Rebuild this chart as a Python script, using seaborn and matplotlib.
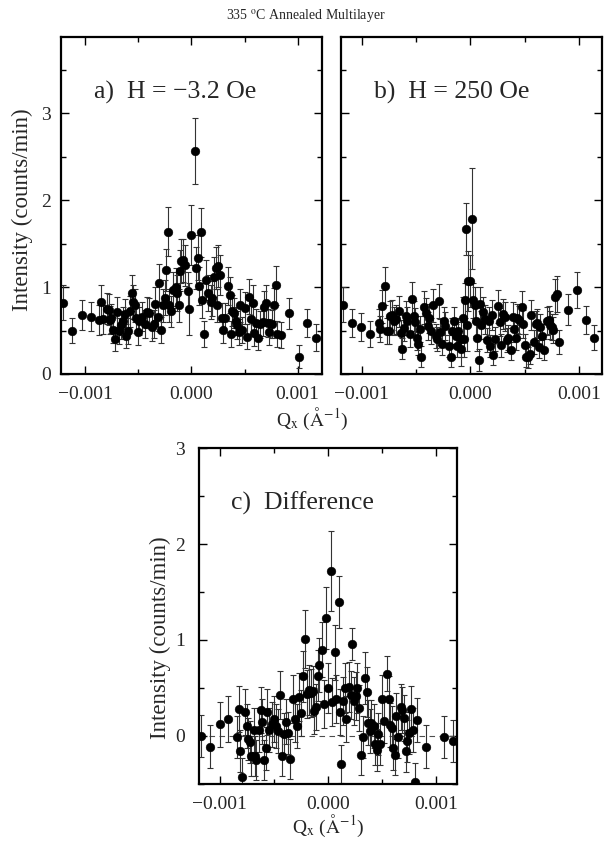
import matplotlib
matplotlib.use("Agg")
import matplotlib.pyplot as plt
import seaborn as sns
import numpy as np
import pandas as pd
from matplotlib.ticker import MultipleLocator

# Qx values in units of 1e-4 A^-1, intensity and error in counts/min
qa = [-12.1, -11.3, -10.3, -9.5, -8.7, -8.5, -8.3, -8.0, -7.8, -7.7, -7.6, -7.4, -7.2, -7.0,
      -6.8, -6.6, -6.5, -6.3, -6.2, -6.0, -5.8, -5.6, -5.5, -5.3, -5.2, -5.0, -4.9, -4.7,
      -4.4, -4.2, -4.0, -3.7, -3.5, -3.4, -3.2, -3.1, -2.9, -2.7, -2.5, -2.4, -2.2, -2.1,
      -1.9, -1.7, -1.5, -1.4, -1.2, -1.1, -1.0, -0.8, -0.6, -0.3, -0.2, 0.0, 0.3, 0.4,
      0.6, 0.7, 0.9, 1.0, 1.2, 1.4, 1.6, 1.8, 1.9, 2.1, 2.3, 2.4, 2.5, 2.7, 2.9, 3.0,
      3.2, 3.4, 3.6, 3.7, 3.8, 4.0, 4.2, 4.3, 4.5, 4.6, 4.8, 5.0, 5.2, 5.4, 5.6, 5.8,
      5.9, 6.1, 6.3, 6.5, 6.7, 6.8, 7.0, 7.2, 7.3, 7.6, 7.8, 8.0, 8.1, 8.4, 9.2, 10.1,
      10.9, 11.7]
ia = [0.82, 0.50, 0.68, 0.66, 0.62, 0.83, 0.63, 0.75, 0.74, 0.62, 0.64, 0.51, 0.40, 0.71,
      0.49, 0.56, 0.61, 0.69, 0.44, 0.50, 0.72, 0.93, 0.83, 0.79, 0.64, 0.48, 0.61, 0.66,
      0.58, 0.71, 0.70, 0.54, 0.58, 0.81, 0.66, 1.05, 0.51, 0.79, 0.88, 1.20, 1.64, 0.79,
      0.72, 0.97, 1.00, 0.93, 0.79, 1.19, 1.30, 1.31, 1.25, 0.96, 0.75, 1.60, 2.57, 1.22,
      1.34, 1.01, 1.63, 0.85, 0.46, 1.08, 0.93, 0.83, 0.87, 1.12, 1.22, 0.79, 1.24, 1.14,
      0.65, 0.51, 0.65, 1.01, 0.91, 0.46, 0.73, 0.70, 0.61, 0.56, 0.48, 0.79, 0.51, 0.76,
      0.43, 0.89, 0.63, 0.82, 0.47, 0.59, 0.42, 0.57, 0.60, 0.77, 0.82, 0.59, 0.48, 0.58,
      0.80, 1.02, 0.46, 0.45, 0.70, 0.20, 0.59, 0.42]
ea = [0.20, 0.14, 0.17, 0.17, 0.17, 0.20, 0.17, 0.18, 0.18, 0.16, 0.17, 0.15, 0.14, 0.18,
      0.15, 0.16, 0.16, 0.17, 0.14, 0.15, 0.18, 0.21, 0.20, 0.19, 0.17, 0.15, 0.16, 0.17,
      0.16, 0.18, 0.17, 0.16, 0.16, 0.19, 0.17, 0.22, 0.15, 0.19, 0.20, 0.24, 0.28, 0.19,
      0.18, 0.21, 0.22, 0.21, 0.19, 0.24, 0.25, 0.25, 0.24, 0.21, 0.30, 0.35, 0.38, 0.24,
      0.26, 0.22, 0.28, 0.20, 0.15, 0.23, 0.21, 0.20, 0.20, 0.23, 0.24, 0.19, 0.24, 0.23,
      0.17, 0.15, 0.17, 0.22, 0.21, 0.15, 0.18, 0.17, 0.16, 0.16, 0.15, 0.19, 0.15, 0.18,
      0.14, 0.20, 0.17, 0.20, 0.15, 0.16, 0.14, 0.16, 0.16, 0.19, 0.20, 0.16, 0.15, 0.16,
      0.19, 0.22, 0.15, 0.15, 0.18, 0.13, 0.16, 0.15]

qb = [-11.7, -10.9, -10.1, -9.2, -8.4, -8.3, -8.1, -7.9, -7.7, -7.5, -7.4, -7.2, -7.0, -6.8,
      -6.6, -6.4, -6.3, -6.1, -5.9, -5.8, -5.6, -5.4, -5.2, -5.1, -4.9, -4.8, -4.6, -4.5,
      -4.3, -4.1, -3.9, -3.8, -3.6, -3.4, -3.2, -3.1, -2.9, -2.8, -2.6, -2.4, -2.3, -2.0,
      -1.8, -1.7, -1.5, -1.3, -1.2, -1.1, -0.9, -0.85, -0.7, -0.6, -0.5, -0.4, -0.3, -0.2,
      0.0, 0.1, 0.2, 0.4, 0.5, 0.6, 0.8, 0.9, 1.0, 1.2, 1.3, 1.5, 1.7, 1.8, 2.0, 2.1,
      2.3, 2.5, 2.7, 2.8, 3.0, 3.2, 3.4, 3.5, 3.7, 3.9, 4.0, 4.2, 4.3, 4.5, 4.7, 4.8,
      5.0, 5.1, 5.3, 5.5, 5.6, 5.8, 6.0, 6.1, 6.3, 6.4, 6.6, 6.8, 7.0, 7.2, 7.3, 7.5,
      7.6, 7.8, 8.0, 8.1, 9.0, 9.8, 10.6, 11.4]
ib = [0.80, 0.59, 0.54, 0.46, 0.59, 0.52, 0.78, 1.01, 0.49, 0.50, 0.67, 0.68, 0.61, 0.63,
      0.72, 0.47, 0.29, 0.53, 0.67, 0.61, 0.46, 0.86, 0.67, 0.60, 0.42, 0.35, 0.52, 0.20,
      0.77, 0.70, 0.55, 0.64, 0.49, 0.79, 0.44, 0.40, 0.84, 0.48, 0.35, 0.61, 0.55, 0.32,
      0.20, 0.50, 0.61, 0.44, 0.32, 0.50, 0.29, 0.40, 0.64, 0.40, 0.85, 1.67, 0.56, 1.07,
      1.07, 1.79, 0.85, 0.80, 0.61, 0.42, 0.16, 0.81, 0.56, 0.71, 0.63, 0.39, 0.61, 0.32,
      0.68, 0.22, 0.40, 0.78, 0.60, 0.33, 0.69, 0.66, 0.39, 0.42, 0.28, 0.66, 0.52, 0.42,
      0.64, 0.62, 0.77, 0.58, 0.33, 0.20, 0.19, 0.23, 0.68, 0.37, 0.57, 0.59, 0.31, 0.54,
      0.44, 0.28, 0.61, 0.62, 0.56, 0.54, 0.51, 0.89, 0.92, 0.37, 0.74, 0.97, 0.62, 0.42]
eb = [0.20, 0.16, 0.16, 0.15, 0.16, 0.15, 0.19, 0.22, 0.15, 0.15, 0.17, 0.17, 0.16, 0.17,
      0.18, 0.15, 0.12, 0.15, 0.17, 0.16, 0.15, 0.20, 0.17, 0.16, 0.14, 0.13, 0.15, 0.12,
      0.19, 0.17, 0.16, 0.17, 0.15, 0.19, 0.14, 0.14, 0.20, 0.15, 0.13, 0.16, 0.16, 0.13,
      0.12, 0.15, 0.16, 0.14, 0.13, 0.15, 0.20, 0.20, 0.25, 0.20, 0.20, 0.30, 0.30, 0.35,
      0.30, 0.58, 0.20, 0.20, 0.17, 0.15, 0.13, 0.19, 0.16, 0.18, 0.17, 0.14, 0.16, 0.13,
      0.17, 0.12, 0.14, 0.19, 0.16, 0.13, 0.17, 0.17, 0.14, 0.14, 0.12, 0.17, 0.15, 0.14,
      0.17, 0.16, 0.19, 0.16, 0.13, 0.12, 0.12, 0.12, 0.17, 0.14, 0.16, 0.16, 0.13, 0.15,
      0.14, 0.12, 0.16, 0.16, 0.16, 0.15, 0.15, 0.20, 0.21, 0.14, 0.18, 0.21, 0.16, 0.14]

qc = [-11.7, -10.9, -10.0, -9.2, -8.4, -8.2, -8.1, -7.9, -7.7, -7.5, -7.4, -7.2, -7.1, -6.8,
      -6.7, -6.6, -6.4, -6.2, -6.1, -5.9, -5.7, -5.6, -5.4, -5.2, -5.0, -4.8, -4.6, -4.4,
      -4.2, -4.1, -3.9, -3.7, -3.5, -3.2, -3.0, -2.9, -2.7, -2.5, -2.3, -2.1, -1.9, -1.8,
      -1.6, -1.4, -1.3, -1.1, -0.9, -0.8, -0.6, -0.4, -0.2, 0.0, 0.3, 0.4, 0.6, 0.7,
      1.0, 1.1, 1.2, 1.4, 1.6, 1.7, 1.9, 2.1, 2.2, 2.4, 2.6, 2.7, 2.9, 3.0, 3.2, 3.4,
      3.6, 3.7, 3.9, 4.0, 4.2, 4.3, 4.5, 4.6, 4.8, 5.0, 5.2, 5.4, 5.6, 5.7, 5.9, 6.0,
      6.2, 6.3, 6.5, 6.7, 6.8, 7.0, 7.2, 7.3, 7.5, 7.7, 7.8, 8.0, 8.2, 9.0, 10.7, 11.5]
ic = [0.00, -0.11, 0.12, 0.18, -0.01, 0.28, -0.16, -0.43, 0.25, 0.10, -0.03, -0.06, -0.21, 0.06,
      -0.21, -0.25, 0.06, 0.27, 0.15, -0.25, -0.13, 0.25, 0.06, 0.12, 0.18, 0.10, 0.05, 0.43,
      -0.21, 0.02, 0.15, 0.03, -0.24, 0.39, 0.18, 0.10, 0.41, 0.24, 0.62, 1.01, 0.44, 0.48,
      0.45, 0.47, 0.26, 0.30, 0.63, 0.74, 0.90, 0.33, 1.23, 0.50, 1.72, 0.35, 0.87, 0.39,
      1.40, 0.25, -0.29, 0.36, 0.50, 0.18, 0.51, 0.43, 0.96, 0.36, 0.42, 0.50, 0.29, -0.20,
      -0.01, 0.60, 0.46, 0.14, 0.05, 0.14, 0.10, -0.08, -0.15, 0.02, -0.08, 0.39, 0.16, 0.65,
      0.38, 0.11, 0.08, -0.13, -0.20, 0.21, -0.01, 0.30, 0.27, 0.19, -0.16, -0.05, 0.03, 0.28,
      0.06, -0.48, 0.17, -0.11, -0.01, -0.05]
ec = [0.22, 0.22, 0.23, 0.24, 0.22, 0.24, 0.22, 0.20, 0.24, 0.23, 0.22, 0.22, 0.21, 0.23,
      0.21, 0.21, 0.23, 0.24, 0.23, 0.21, 0.22, 0.24, 0.23, 0.23, 0.24, 0.23, 0.23, 0.25,
      0.21, 0.22, 0.23, 0.22, 0.21, 0.25, 0.24, 0.23, 0.25, 0.24, 0.27, 0.30, 0.25, 0.26,
      0.25, 0.26, 0.24, 0.24, 0.27, 0.28, 0.29, 0.25, 0.32, 0.26, 0.42, 0.25, 0.29, 0.25,
      0.27, 0.24, 0.20, 0.25, 0.26, 0.24, 0.26, 0.25, 0.17, 0.25, 0.25, 0.26, 0.24, 0.21,
      0.22, 0.27, 0.26, 0.23, 0.23, 0.23, 0.23, 0.22, 0.22, 0.22, 0.22, 0.25, 0.23, 0.18,
      0.25, 0.23, 0.23, 0.22, 0.21, 0.24, 0.22, 0.24, 0.24, 0.24, 0.22, 0.22, 0.22, 0.24,
      0.23, 0.20, 0.23, 0.22, 0.22, 0.22]

sns.set_theme(style="ticks")
plt.rcParams['font.family'] = ['Liberation Serif', 'DejaVu Serif']
plt.rcParams['mathtext.fontset'] = 'stix'
plt.rcParams['xtick.direction'] = 'in'
plt.rcParams['ytick.direction'] = 'in'

fig = plt.figure(figsize=(6.11, 8.49), dpi=100)
ax_a = fig.add_axes([0.0998, 0.5595, 0.4272, 0.3969])
ax_b = fig.add_axes([0.5581, 0.5595, 0.4272, 0.3969])
ax_c = fig.add_axes([0.3257, 0.0766, 0.4223, 0.3957])


def panel(ax, q, inten, err, label, xlim, ylim, ylabels=True, ypad=7):
    df = pd.DataFrame({'q': np.array(q) * 1e-4, 'i': inten, 'e': err})
    ax.errorbar(df['q'], df['i'], yerr=df['e'], fmt='none', ecolor='0.2',
                elinewidth=0.8, capsize=2, capthick=0.8, zorder=2)
    sns.scatterplot(data=df, x='q', y='i', ax=ax, color='black', s=40,
                    edgecolor='black', linewidth=0.3, zorder=3, legend=False)
    ax.set_xlim(*xlim)
    ax.set_ylim(*ylim)
    ax.set_xlabel('')
    ax.set_ylabel('')
    ax.xaxis.set_major_locator(MultipleLocator(0.001))
    ax.xaxis.set_minor_locator(MultipleLocator(0.0005))
    ax.yaxis.set_major_locator(MultipleLocator(1))
    ax.yaxis.set_minor_locator(MultipleLocator(0.5))
    ax.xaxis.set_major_formatter(plt.FuncFormatter(lambda v, p: f"{v:.3f}".replace('-', '\u2212')))
    ax.tick_params(which='both', top=True, right=True, labelsize=14, width=1, color='black')
    ax.tick_params(which='major', length=6)
    ax.tick_params(which='minor', length=3.5)
    ax.tick_params(axis='x', pad=9)
    ax.tick_params(axis='y', pad=ypad)
    if not ylabels:
        ax.set_yticklabels([])
    for s in ax.spines.values():
        s.set_linewidth(1.6)
        s.set_color('black')
    ax.text(0.125, 0.835, label, transform=ax.transAxes, fontsize=18.5, va='center')


panel(ax_a, qa, ia, ea, 'a)  H = \u22123.2 Oe', (-0.00123, 0.00123), (0, 3.88))
panel(ax_b, qb, ib, eb, 'b)  H = 250 Oe', (-0.00119, 0.00121), (0, 3.88), ylabels=False)
panel(ax_c, qc, ic, ec, 'c)  Difference', (-0.00119, 0.00119), (-0.5, 3), ypad=10)
ax_c.axhline(0, color='0.3', lw=0.8, ls=(0, (5, 4)), zorder=1)

fig.text(0.5, 0.982, r'335 $^{\rm o}$C Annealed Multilayer', ha='center', va='center', fontsize=10)
fig.text(0.036, 0.753, 'Intensity (counts/min)', rotation=90, ha='center', va='center', fontsize=16.5)
fig.text(0.512, 0.506, r'Q$_{\rm x}$ ($\rm\AA^{-1}$)', ha='center', va='center', fontsize=14)
fig.text(0.262, 0.249, 'Intensity (counts/min)', rotation=90, ha='center', va='center', fontsize=16.5)
fig.text(0.537, 0.027, r'Q$_{\rm x}$ ($\rm\AA^{-1}$)', ha='center', va='center', fontsize=14)

fig.savefig('out.png', dpi=100)
